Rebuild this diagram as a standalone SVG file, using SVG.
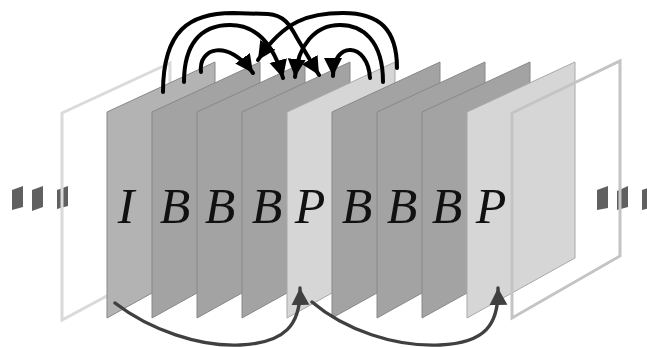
<svg xmlns="http://www.w3.org/2000/svg" width="647" height="347" viewBox="0 0 647 347">
<style>
.frm{stroke:#888;stroke-width:1;stroke-linejoin:miter}
.fi{fill:#b3b3b3}
.fb{fill:#a3a3a3}
.fp{fill:#d6d6d6;stroke:#a8a8a8}
.out{fill:none;stroke-width:3}
.lbl{font-family:"Liberation Serif",serif;font-style:italic;font-size:50px;fill:#111;text-anchor:middle}
.dot{fill:#606060}
.top{fill:none;stroke:#000;stroke-width:4;stroke-linecap:round}
.bot{fill:none;stroke:#404040;stroke-width:3.4;stroke-linecap:round}
</style>
<defs>
<marker id="ah" markerUnits="userSpaceOnUse" markerWidth="22" markerHeight="22" refX="18" refY="9" orient="auto">
<path d="M0,0 L18,9 L0,18 Z" fill="#000"/>
</marker>
<marker id="ahg" markerUnits="userSpaceOnUse" markerWidth="22" markerHeight="22" refX="17" refY="9" orient="auto">
<path d="M0,0 L17,9 L0,18 Z" fill="#404040"/>
</marker>
</defs>
<g id="dots-left">
<polygon class="dot" points="12,190 23,186 23,207 12,210"/>
<polygon class="dot" points="32,190 43,186 43,207 32,211"/>
<polygon class="dot" points="57,190 68,186 68,206 57,209"/>
</g>
<g id="outline-left">
<polygon class="out" stroke="#dadada" points="62,113 170,63 170,262 62,320"/>
</g>
<g id="frame-I"><polygon class="frm fi" points="107,112 215,62 215,258 107,318"/><text class="lbl" x="126" y="223">I</text></g>
<g id="frame-B1"><polygon class="frm fb" points="152,112 260,62 260,258 152,318"/><text class="lbl" x="175" y="223">B</text></g>
<g id="frame-B2"><polygon class="frm fb" points="197,112 305,62 305,258 197,318"/><text class="lbl" x="220" y="223">B</text></g>
<g id="frame-B3"><polygon class="frm fb" points="242,112 350,62 350,258 242,318"/><text class="lbl" x="267" y="223">B</text></g>
<g id="frame-P1"><polygon class="frm fp" points="287,112 395,62 395,258 287,318"/><text class="lbl" x="310" y="223">P</text></g>
<g id="frame-B4"><polygon class="frm fb" points="332,112 440,62 440,258 332,318"/><text class="lbl" x="357" y="223">B</text></g>
<g id="frame-B5"><polygon class="frm fb" points="377,112 485,62 485,258 377,318"/><text class="lbl" x="402" y="223">B</text></g>
<g id="frame-B6"><polygon class="frm fb" points="422,112 530,62 530,258 422,318"/><text class="lbl" x="447" y="223">B</text></g>
<g id="frame-P2"><polygon class="frm fp" points="467,112 575,62 575,258 467,318"/><text class="lbl" x="491" y="223">P</text></g>
<g id="dots-right">
<polygon class="dot" points="597,190 608,186 608,208 597,210"/>
<polygon class="dot" points="617,191 628,186 628,207 617,210"/>
<polygon class="dot" points="642,190 653,186 653,207 642,210"/>
</g>
<g id="outline-right">
<polygon class="out" stroke="#c4c4c4" points="512,113 620,61 620,256 512,318"/>
</g>
<g id="connectors">
<path class="top" marker-end="url(#ah)" d="M163,92 C163,30 190,13 233,13 L268,14 C284,15 290,25 297,38 L319,75"/>
<path class="top" marker-end="url(#ah)" d="M184,82 C184,45 200,25 230,25 C255,25 273,42 283,78"/>
<path class="top" marker-end="url(#ah)" d="M201,72 C198,48 228,38 253,73"/>
<path class="top" marker-end="url(#ah)" d="M397,68 C397,30 380,13 343,13 C310,13 284,20 258,60"/>
<path class="top" marker-end="url(#ah)" d="M383,82 C383,40 362,25 340,25 C315,25 298,45 295,77"/>
<path class="top" marker-end="url(#ah)" d="M370,78 C368,42 333,40 333,76"/>
<path class="bot" marker-end="url(#ahg)" d="M115,303 C150,330 200,347 240,345 C285,343 301,325 300,288"/>
<path class="bot" marker-end="url(#ahg)" d="M312,302 C345,330 395,347 440,345 C485,343 499,325 498,288"/>
</g>
</svg>
